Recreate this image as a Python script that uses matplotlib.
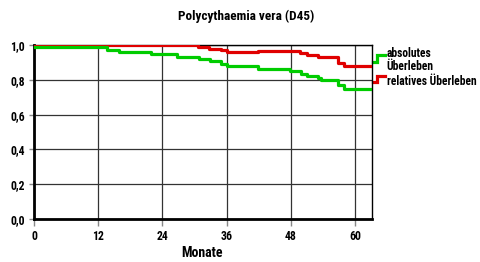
import numpy as np
import matplotlib.pyplot as plt

# Monate / Überlebensraten
abs_t = [0, 13.7, 15.9, 21.9, 26.8, 30.9, 32.9, 35.0, 36.05, 41.9, 47.9, 50.0, 51.0, 53.1, 53.7, 56.9, 57.9, 63.2]
abs_s = [0.990, 0.973, 0.960, 0.948, 0.933, 0.920, 0.906, 0.893, 0.878, 0.862, 0.849, 0.835, 0.822, 0.810, 0.797, 0.772, 0.749, 0.749]
rel_t = [0, 30.7, 32.7, 35.0, 36.05, 41.9, 49.8, 51.0, 53.1, 56.9, 57.9, 63.2]
rel_s = [0.998, 0.989, 0.979, 0.971, 0.960, 0.967, 0.956, 0.944, 0.929, 0.897, 0.881, 0.881]

x_ticks = [0, 12, 24, 36, 48, 60]
y_ticks = [0.0, 0.2, 0.4, 0.6, 0.8, 1.0]
y_labels = ['0,0', '0,2', '0,4', '0,6', '0,8', '1,0']

fnt = ['Roboto Condensed', 'DejaVu Sans']
green = '#00cc00'
red = '#e00000'

fig = plt.figure(figsize=(4.81, 2.62), dpi=100)
ax = fig.add_axes([34/481, 1 - 219/262, 338/481, 174/262])

ax.step(rel_t, rel_s, where='post', color=red, lw=2.3, zorder=3)
ax.step(abs_t, abs_s, where='post', color=green, lw=2.3, zorder=4)

ax.set_xlim(0, 63.2)
ax.set_ylim(0, 1.0)
ax.set_xticks(x_ticks)
ax.set_yticks(y_ticks)
ax.set_yticklabels(y_labels)
ax.grid(True, color='#333333', lw=0.9)
ax.set_axisbelow(True)

for s in ['top', 'right']:
    ax.spines[s].set_linewidth(1.0)
for s in ['left', 'bottom']:
    ax.spines[s].set_linewidth(2.0)
ax.tick_params(axis='x', length=5, width=1, color='#888888', pad=3)
ax.tick_params(axis='y', length=3.6, width=1, color='#888888', pad=3)
for lab in ax.get_xticklabels() + ax.get_yticklabels():
    lab.set_family(fnt)
    lab.set_fontweight('bold')
    lab.set_fontsize(8.5)

fig.text(202/481, 1 - 253/262, 'Monate', family=fnt, fontweight='bold', fontsize=10,
         ha='center', va='center')
fig.text(246/481, 1 - 16.5/262, 'Polycythaemia vera (D45)', family=fnt, fontweight='bold',
         fontsize=9.5, ha='center', va='center')

# Legende rechts
ax.plot([1.003, 1.016, 1.016, 1.038], [0.904, 0.904, 0.943, 0.943], color=green, lw=2.3,
        transform=ax.transAxes, clip_on=False, solid_joinstyle='miter')
ax.plot([1.003, 1.016, 1.016, 1.038], [0.789, 0.789, 0.822, 0.822], color=red, lw=2.3,
        transform=ax.transAxes, clip_on=False, solid_joinstyle='miter')
ax.text(1.043, 0.929, 'absolutes', transform=ax.transAxes, family=fnt,
        fontweight='bold', fontsize=8.3, va='baseline', ha='left')
ax.text(1.043, 0.855, 'Überleben', transform=ax.transAxes, family=fnt,
        fontweight='bold', fontsize=8.3, va='baseline', ha='left')
ax.text(1.043, 0.772, 'relatives Überleben', transform=ax.transAxes, family=fnt,
        fontweight='bold', fontsize=8.3, va='baseline', ha='left')

plt.savefig('out.png', dpi=100)
